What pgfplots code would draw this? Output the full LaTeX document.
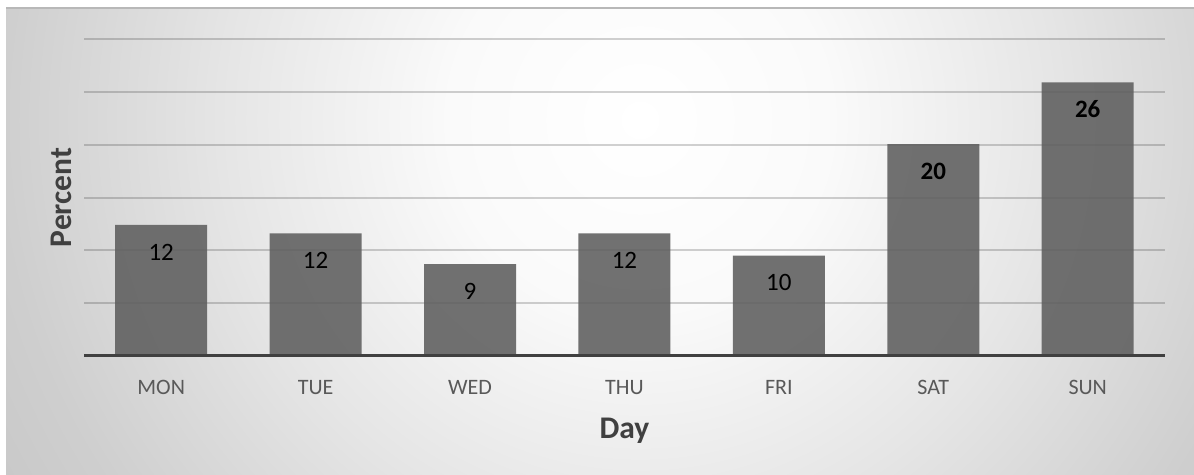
\documentclass[border=0pt]{standalone}
\usepackage{pgfplots}
\pgfplotsset{compat=1.18}
\usepackage{fontspec}
\setmainfont{Carlito}
\definecolor{barc}{HTML}{5E5E5E}
\definecolor{tickc}{HTML}{595959}
\definecolor{titc}{HTML}{404040}
\definecolor{basec}{HTML}{404040}
\pgfdeclareradialshading{bgshade}{\pgfpoint{0bp}{0bp}}{%
  color(0bp)=(white);
  color(6bp)=(white!98!black);
  color(13bp)=(white!90!black);
  color(20bp)=(white!81!black);
  color(25bp)=(white!77!black);
  color(50bp)=(white!75!black)}
\begin{document}
\begin{tikzpicture}[x=1pt,y=1pt]
\useasboundingbox (0,0) rectangle (1194,474);
\begin{scope}
  \clip (6,0) rectangle (1194,466);
  \shade[shading=bgshade] (640-800,354-800) rectangle (640+800,354+800);
\end{scope}
\draw[line width=2pt, white!72!black] (6,466) -- (1194,466);
\begin{axis}[
  at={(84pt,118pt)}, anchor=south west,
  scale only axis, width=1081pt, height=317pt,
  xmin=-0.5, xmax=6.5, ymin=0, ymax=30,
  axis line style={draw=none},
  tick style={draw=none},
  xtick={0,...,6},
  xticklabels={MON,TUE,WED,THU,FRI,SAT,SUN},
  ytick={0,5,...,30},
  ymajorgrids,
  grid style={draw=black, draw opacity=0.18, line width=2pt},
  major tick length=0pt,
  xticklabel style={font=\fontsize{22}{26}\selectfont, text=tickc, inner sep=0pt, anchor=north, yshift=-24pt},
  yticklabels={},
  xlabel={\textbf{Day}},
  xlabel style={font=\fontsize{31.5}{34}\selectfont, text=titc, inner sep=0pt, at={(axis description cs:0.5,0)}, anchor=north, yshift=-62pt},
  ylabel={\textbf{Percent}},
  ylabel style={font=\fontsize{31.5}{34}\selectfont, text=titc, inner sep=0pt, at={(axis description cs:0,0.5)}, anchor=south, yshift=12pt},
  ybar, bar width=92pt,
  point meta=explicit symbolic,
  nodes near coords={\pgfplotspointmeta},
  every node near coord/.append style={anchor=center, yshift=-27pt, inner sep=0pt, text=black},
]
\addplot[ybar, bar shift=0pt, fill=barc, fill opacity=0.88, draw=none,
  every node near coord/.append style={font=\fontsize{25}{28}\selectfont, text opacity=1}]
  coordinates {(0,12.4) [12] (1,11.6) [12] (2,8.7) [9] (3,11.6) [12] (4,9.5) [10]};
\addplot[ybar, bar shift=0pt, fill=barc, fill opacity=0.88, draw=none,
  every node near coord/.append style={font=\bfseries\fontsize{25}{28}\selectfont, text opacity=1}]
  coordinates {(5,20.05) [20] (6,25.9) [26]};
\draw[basec, line width=3.5pt] (axis cs:-0.5,0) -- (axis cs:6.5,0);
\end{axis}
\end{tikzpicture}
\end{document}
